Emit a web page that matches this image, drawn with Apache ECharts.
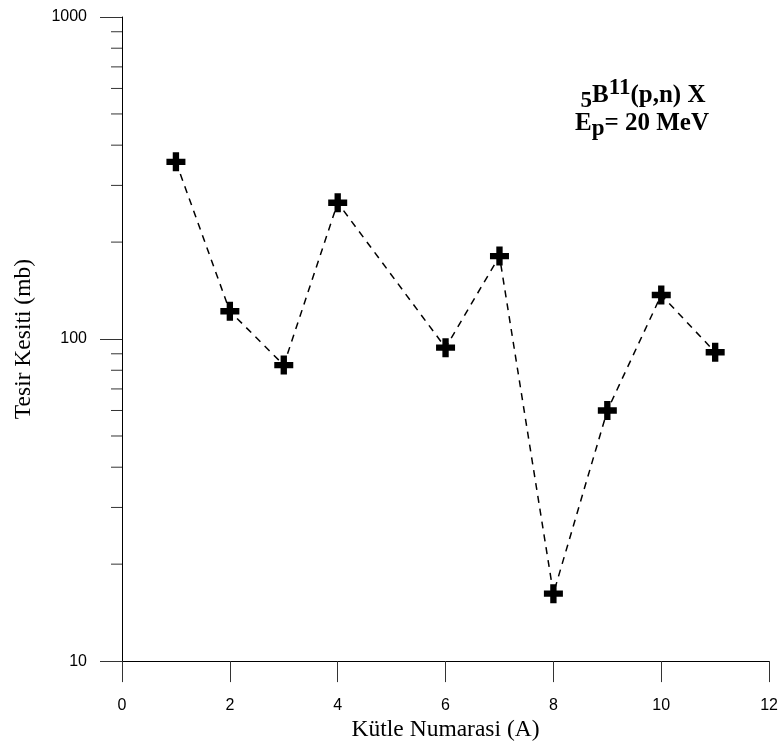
<!DOCTYPE html>
<html>
<head>
<meta charset="utf-8">
<script src="https://cdn.jsdelivr.net/npm/echarts@6/dist/echarts.min.js"></script>
<style>html,body{margin:0;padding:0;background:#fff;}#c{width:781px;height:747px;}</style>
</head>
<body>
<div id="c"></div>
<script>
// Data
const massNumbers = [1, 2, 3, 4, 6, 7, 8, 9, 10, 11];
const crossSections = [355, 122, 83, 265, 94, 181, 16.2, 60, 137, 91];
const xTicks = [0, 2, 4, 6, 8, 10, 12];
const yMajorTicks = [10, 100, 1000];
const yMinorTicks = [20, 30, 40, 50, 60, 70, 80, 90, 200, 300, 400, 500, 600, 700, 800, 900];

const chart = echarts.init(document.getElementById('c'), null, {renderer: 'canvas'});
const plusPath = 'path://M-1,-3 L1,-3 L1,-1 L3,-1 L3,1 L1,1 L1,3 L-1,3 L-1,1 L-3,1 L-3,-1 L-1,-1 Z';

// Annotation text built from pieces (normal / superscript / subscript)
const FAMILY = 'Liberation Serif';
const measureCtx = document.createElement('canvas').getContext('2d');
function textRun(parts, cx, baseY) {
  const widths = parts.map(p => { measureCtx.font = 'bold ' + p.size + 'px "' + FAMILY + '"'; return measureCtx.measureText(p.t).width; });
  const total = widths.reduce((a, b) => a + b, 0);
  let x = cx - total / 2;
  return parts.map((p, i) => {
    const el = {
      type: 'text', x: x, y: baseY + p.dy - 0.34 * p.size, z: 10,
      style: {text: p.t, fontFamily: FAMILY, fontWeight: 'bold', fontSize: p.size, fill: '#000', align: 'left', verticalAlign: 'middle'}
    };
    x += widths[i];
    return el;
  });
}
const line1 = [
  {t: '5', size: 23, dy: 5},
  {t: 'B', size: 25, dy: 0},
  {t: '11', size: 23, dy: -8},
  {t: '(p,n) X', size: 25, dy: 0}
];
const line2 = [
  {t: 'E', size: 25, dy: 0},
  {t: 'p', size: 23, dy: 5},
  {t: '= 20 MeV', size: 25, dy: 0}
];

const option = {
  animation: false,
  backgroundColor: '#ffffff',
  grid: {left: 122, right: 11, top: 17, bottom: 85, containLabel: false},
  xAxis: {
    type: 'value', min: xTicks[0], max: xTicks[xTicks.length - 1], interval: 2,
    name: 'Kütle Numarasi (A)', nameLocation: 'middle', nameGap: 52,
    nameTextStyle: {fontFamily: 'Liberation Serif', fontSize: 23.5, color: '#000'},
    axisLine: {lineStyle: {color: '#000', width: 1}},
    axisTick: {length: 21, lineStyle: {color: '#333', width: 1}},
    axisLabel: {margin: 36, fontFamily: 'Liberation Sans', fontSize: 16, color: '#000'},
    splitLine: {show: false}
  },
  yAxis: {
    type: 'log', logBase: 10, min: yMajorTicks[0], max: yMajorTicks[yMajorTicks.length - 1],
    name: 'Tesir Kesiti (mb)', nameLocation: 'middle', nameGap: 86, nameRotate: 90,
    nameTextStyle: {fontFamily: 'Liberation Serif', fontSize: 23.5, color: '#000'},
    axisLine: {show: true, lineStyle: {color: '#000', width: 1}},
    axisTick: {length: 22, lineStyle: {color: '#333', width: 1}},
    axisLabel: {margin: 35, fontFamily: 'Liberation Sans', fontSize: 16, color: '#000', formatter: v => String(v)},
    splitLine: {show: false}
  },
  graphic: textRun(line1, 643, 104).concat(textRun(line2, 642, 132)),
  series: [
    {
      type: 'line',
      data: massNumbers.map((x, i) => [x, crossSections[i]]),
      lineStyle: {color: '#000', width: 1.5, type: [7, 6]},
      symbol: plusPath, symbolSize: 19,
      itemStyle: {color: '#000'},
      z: 3
    },
    {
      type: 'custom',
      clip: false,
      silent: true,
      data: yMinorTicks.map(v => [xTicks[0], v]),
      renderItem: function (params, api) {
        const p = api.coord([api.value(0), api.value(1)]);
        return {type: 'line', shape: {x1: p[0] - 11, y1: p[1], x2: p[0], y2: p[1]}, style: {stroke: '#333', lineWidth: 1}};
      }
    }
  ]
};
chart.setOption(option);
</script>
</body>
</html>
